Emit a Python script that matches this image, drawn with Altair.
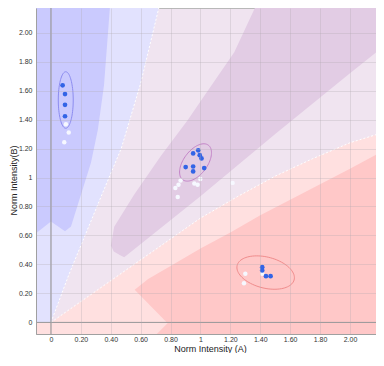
import altair as alt
import pandas as pd
import numpy as np

# ---------------- data ----------------
# background regions (polygons, data coordinates)
lightblue_x = [-0.1, 0.0, 0.12, 0.24, 0.34, 0.47, 0.60, 0.74, -0.1]
lightblue_y = [0.0, 0.0, 0.33, 0.63, 0.88, 1.20, 1.65, 2.25, 2.25]

lower_line_x = [0.0, 0.25, 0.5, 0.75, 1.0, 1.25, 1.5, 1.75, 2.0, 2.25, 2.4]
lower_line_y = [0.0, 0.18, 0.36, 0.54, 0.72, 0.87, 1.01, 1.13, 1.24, 1.32, 1.36]

upper_line_x = [0.0, 0.12, 0.24, 0.34, 0.47, 0.60, 0.74]
upper_line_y = [0.0, 0.33, 0.63, 0.88, 1.20, 1.65, 2.25]

lightpink_x = [-0.1, -0.1] + lower_line_x + [2.4]
lightpink_y = [-0.15, 0.0] + lower_line_y + [-0.15]

darkblue_x = [-0.1, 0.40, 0.355, 0.314, 0.268, 0.201, 0.134, 0.094, 0.0, -0.1]
darkblue_y = [2.25, 2.25, 1.639, 1.331, 1.104, 0.883, 0.662, 0.629, 0.696, 0.615]

purple_x = [1.40, 1.226, 1.003, 0.914, 0.736, 0.557, 0.423, 0.401, 0.42, 0.46, 0.49, 1.0, 1.5, 2.0, 2.4, 2.4]
purple_y = [2.25, 1.864, 1.53, 1.396, 1.151, 0.883, 0.66, 0.53, 0.49, 0.465, 0.45, 0.87, 1.30, 1.72, 2.05, 2.25]

salmon_x = [0.56, 0.65, 0.8, 1.0, 1.2, 1.4, 1.7, 2.0, 2.234, 2.4, 2.4, 0.64, 0.78]
salmon_y = [0.225, 0.30, 0.39, 0.51, 0.62, 0.74, 0.90, 1.06, 1.19, 1.27, -0.15, -0.15, -0.005]

# cluster ellipses
ell_cx = [0.099, 0.967, 1.436]
ell_cy = [1.535, 1.104, 0.344]
ell_a = [0.05, 0.147, 0.197]
ell_b = [0.195, 0.08, 0.107]
ell_angle = [0, 55, -15]
ell_color = ["#8c8cf0", "#c484c8", "#f08c8c"]

# samples
blue_x = [0.078, 0.094, 0.094, 0.094,
          0.951, 0.985, 0.995, 1.007, 0.901, 0.951, 0.951, 1.025,
          1.413, 1.413, 1.438, 1.469]
blue_y = [1.636, 1.576, 1.502, 1.423,
          1.166, 1.188, 1.154, 1.132, 1.072, 1.076, 1.042, 1.065,
          0.381, 0.359, 0.319, 0.319]
white_x = [0.10, 0.119, 0.089,
           0.867, 0.853, 0.832, 0.848, 0.959, 0.981, 0.999, 1.215,
           1.30, 1.291, 1.413]
white_y = [1.367, 1.311, 1.244,
           0.98, 0.95, 0.928, 0.865, 0.958, 0.95, 0.99, 0.963,
           0.336, 0.27, 0.336]

tick_values = [0, 0.2, 0.4, 0.6, 0.8, 1, 1.2, 1.4, 1.6, 1.8, 2.0, 2.2]

# ---------------- chart ----------------
label_expr = "datum.value == 0 ? '0' : (abs(datum.value - 1) < 1e-9 ? '1' : format(datum.value, '.2f'))"

xscale = alt.Scale(domain=[-0.1, 2.174], nice=False, zero=False)
yscale = alt.Scale(domain=[-0.08, 2.17], nice=False, zero=False)

X = alt.X("x:Q", scale=xscale, axis=alt.Axis(
    values=tick_values, labelExpr=label_expr, title="Norm Intensity (A)",
    ticks=False, labelPadding=1, titleX=174, titleY=17, titleAlign="center",
    titleBaseline="alphabetic", zindex=1))
Y = alt.Y("y:Q", scale=yscale, axis=alt.Axis(
    values=tick_values, labelExpr=label_expr, title="Norm Intensity(B)",
    ticks=False, labelPadding=4, titleX=-23, titleY=172, titleAngle=270,
    titleAlign="center", titleBaseline="middle", zindex=1))


def poly_df(xs, ys):
    return pd.DataFrame({"x": xs, "y": ys, "i": list(range(len(xs)))})


def poly(xs, ys, color):
    return alt.Chart(poly_df(xs, ys)).mark_line(
        fill=color, stroke=color, strokeWidth=0, clip=True, interpolate="linear"
    ).encode(x=X, y=Y, order=alt.Order("i:Q"))


def dashed(xs, ys):
    return alt.Chart(poly_df(xs, ys)).mark_line(
        color="white", strokeWidth=1, strokeDash=[2, 2], clip=True
    ).encode(x=X, y=Y, order=alt.Order("i:Q"))


layers = [
    poly(lightblue_x, lightblue_y, "#e2e2fe"),
    poly(lightpink_x, lightpink_y, "#ffe0e0"),
    poly(darkblue_x, darkblue_y, "#cacafe"),
    poly(purple_x, purple_y, "#e2cce4"),
    poly(salmon_x, salmon_y, "#ffc8c8"),
    dashed(upper_line_x, upper_line_y),
    dashed(lower_line_x, lower_line_y),
]

# zero rules
zero_df = pd.DataFrame({"x": [0.0], "y": [0.0]})
layers.append(alt.Chart(zero_df).mark_rule(color="#909090", strokeWidth=1).encode(x=X))
layers.append(alt.Chart(zero_df).mark_rule(color="#909090", strokeWidth=1).encode(y=Y))

# ellipses
t = np.linspace(0, 2 * np.pi, 90)
for cx, cy, a, b, ang, col in zip(ell_cx, ell_cy, ell_a, ell_b, ell_angle, ell_color):
    th = np.deg2rad(ang)
    ex = cx + a * np.cos(th) * np.cos(t) - b * np.sin(th) * np.sin(t)
    ey = cy + a * np.sin(th) * np.cos(t) + b * np.cos(th) * np.sin(t)
    layers.append(alt.Chart(poly_df(list(ex), list(ey))).mark_line(
        color=col, strokeWidth=1).encode(x=X, y=Y, order=alt.Order("i:Q")))

white_df = pd.DataFrame({"x": white_x, "y": white_y})
blue_df = pd.DataFrame({"x": blue_x, "y": blue_y})
layers.append(alt.Chart(white_df).mark_circle(size=20, color="#f6f8ff", opacity=1).encode(x=X, y=Y))
layers.append(alt.Chart(blue_df).mark_circle(size=22, color="#3264e6", opacity=1).encode(x=X, y=Y))

chart = alt.layer(*layers).properties(
    width=340, height=326,
    padding={"left": 28, "top": 0, "right": 0, "bottom": 19},
    autosize=alt.AutoSizeParams(type="none"),
).configure_view(
    fill="#f0e4f0", stroke="#b8b8b8", strokeWidth=1
).configure_axis(
    labelFont="Liberation Sans", labelFontSize=7, labelColor="#333333",
    titleFont="Liberation Sans", titleFontSize=9, titleFontWeight="normal",
    titleColor="#222222", gridColor="#b0a8b0", gridOpacity=0.3,
    domainColor="#a0a0a0"
)

chart.save("out.html", embed_options={"renderer": "svg", "actions": False})
